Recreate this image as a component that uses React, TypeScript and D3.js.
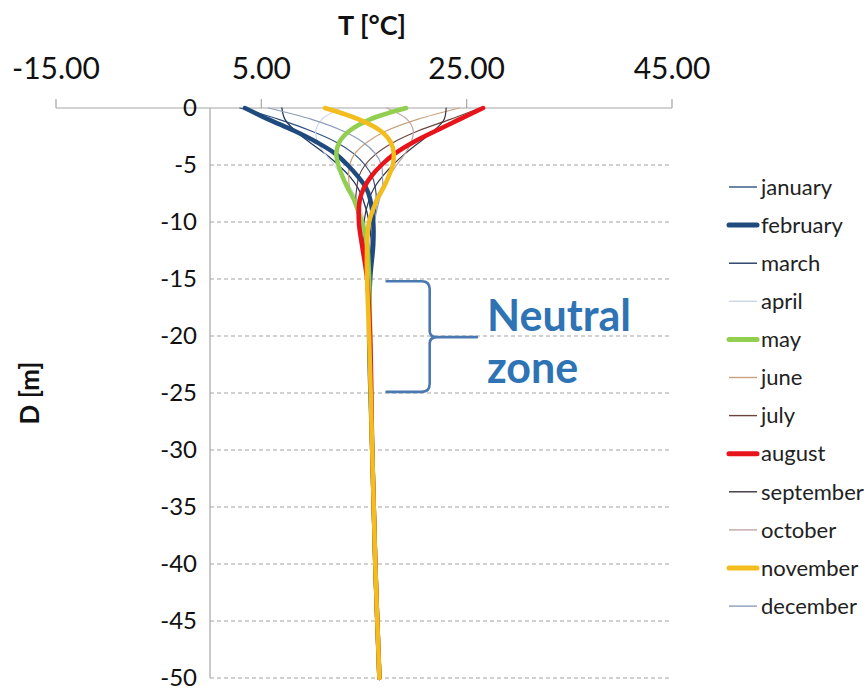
import React from 'react';
import * as d3 from 'd3';

const W = 868;
const H = 688;
const FONT = "Lato, 'Open Sans', 'DejaVu Sans', sans-serif";

// Depth below surface [m]
const DEPTHS = [0, -1, -2, -3, -4, -5, -6, -7, -8, -10, -12, -15, -20, -30, -40, -50];

// Monthly ground temperature profiles [°C], one value per depth
const january = [2.9, 6.7, 9.8, 12.3, 14.0, 15.1, 15.8, 16.1, 16.2, 16.0, 15.7, 15.5, 15.5, 15.8, 16.1, 16.5];
const february = [3.4, 5.7, 8.2, 10.4, 12.2, 13.4, 14.4, 15.2, 15.6, 15.9, 15.9, 15.6, 15.5, 15.8, 16.1, 16.5];
const march = [7.0, 7.3, 8.3, 9.7, 11.2, 12.5, 13.6, 14.4, 14.9, 15.5, 15.7, 15.6, 15.6, 15.8, 16.1, 16.5];
const april = [12.8, 10.9, 10.3, 10.5, 11.2, 12.1, 12.9, 13.7, 14.3, 15.1, 15.5, 15.6, 15.6, 15.8, 16.1, 16.5];
const may = [19.1, 15.6, 13.6, 12.6, 12.3, 12.5, 12.9, 13.4, 14.0, 14.8, 15.3, 15.5, 15.6, 15.8, 16.1, 16.5];
const june = [24.3, 20.2, 17.2, 15.3, 14.1, 13.6, 13.5, 13.6, 13.9, 14.6, 15.1, 15.5, 15.6, 15.8, 16.1, 16.5];
const july = [26.3, 23.4, 20.3, 17.9, 16.2, 15.1, 14.5, 14.3, 14.2, 14.5, 14.9, 15.4, 15.6, 15.8, 16.1, 16.5];
const august = [26.6, 24.3, 22.0, 19.8, 18.0, 16.7, 15.7, 15.0, 14.6, 14.5, 14.8, 15.3, 15.6, 15.8, 16.1, 16.5];
const september = [23.0, 22.8, 21.8, 20.4, 19.0, 17.8, 16.8, 16.0, 15.5, 15.0, 15.0, 15.2, 15.6, 15.8, 16.1, 16.5];
const october = [17.2, 19.2, 19.8, 19.6, 19.0, 18.2, 17.4, 16.7, 16.1, 15.4, 15.2, 15.2, 15.5, 15.8, 16.1, 16.5];
const november = [11.2, 14.5, 16.6, 17.6, 17.9, 17.8, 17.4, 16.9, 16.3, 15.5, 15.3, 15.3, 15.5, 15.8, 16.1, 16.5];
const december = [5.7, 9.9, 12.9, 14.9, 16.1, 16.7, 16.8, 16.8, 16.5, 16.0, 15.6, 15.4, 15.5, 15.8, 16.1, 16.5];

const MONTHS = [
  'january', 'february', 'march', 'april', 'may', 'june',
  'july', 'august', 'september', 'october', 'november', 'december',
];
const SERIES = [
  january, february, march, april, may, june,
  july, august, september, october, november, december,
];
const COLORS = [
  '#2f5180', '#1f4a7d', '#1f3864', '#ccd6e4', '#92cf50', '#c9a27c',
  '#6b4440', '#e8141c', '#3a3440', '#c2a6a6', '#f3bd1e', '#8c9dbb',
];
const WIDTHS = [1.2, 4.5, 1.3, 1.1, 4.5, 1.2, 1.2, 4.5, 1.2, 1.2, 4.5, 1.2];

const T_TICKS = [-15, 5, 25, 45];
const D_TICKS = [0, -5, -10, -15, -20, -25, -30, -35, -40, -45, -50];

export default function App() {
  const x = d3.scaleLinear().domain([-15, 45]).range([56, 672]);
  const y = d3.scaleLinear().domain([0, -50]).range([108, 678]);
  const fmt = (t: number) => d3.format('.2f')(t).replace('\u2212', '-');

  const line = d3
    .line<number>()
    .x((t) => x(t))
    .y((_, i) => y(DEPTHS[i]))
    .curve(d3.curveCatmullRom.alpha(0.5));

  // thin profiles underneath, bold highlighted months on top
  const order = d3.range(SERIES.length).sort(
    (a, b) => (WIDTHS[a] > 3 ? 1 : 0) - (WIDTHS[b] > 3 ? 1 : 0) || a - b,
  );

  // brace marking the neutral zone
  const bx0 = x(17.2);
  const bxc = x(21.4);
  const bxTip = x(26.0);
  const byTop = y(-15.2);
  const byMid = y(-20.1);
  const byBot = y(-24.9);
  const r = 8;
  const brace = [
    `M${bx0},${byTop} L${bxc - r},${byTop} Q${bxc},${byTop} ${bxc},${byTop + r}`,
    `L${bxc},${byMid - 6} Q${bxc},${byMid} ${bxc + r},${byMid} L${bxTip},${byMid}`,
    `M${bxc + r},${byMid} Q${bxc},${byMid} ${bxc},${byMid + 6}`,
    `L${bxc},${byBot - r} Q${bxc},${byBot} ${bxc - r},${byBot} L${bx0},${byBot}`,
  ].join(' ');

  const legendY0 = 187;
  const legendStep = 38.1;

  return (
    <svg
      width={W}
      height={H}
      viewBox={`0 0 ${W} ${H}`}
      style={{ position: 'absolute', left: 0, top: 0, background: '#fff' }}
      fontFamily={FONT}
    >
      {/* horizontal grid */}
      {D_TICKS.filter((d) => d !== 0).map((d) => (
        <line
          key={`g${d}`}
          x1={x(0)}
          x2={x(45)}
          y1={y(d)}
          y2={y(d)}
          stroke="#a3a3a3"
          strokeWidth={1.2}
          strokeDasharray="4,3"
        />
      ))}

      {/* temperature axis on top */}
      <line x1={x(-15)} x2={x(45)} y1={y(0)} y2={y(0)} stroke="#a6a6a6" strokeWidth={1.2} />
      {T_TICKS.map((t) => (
        <g key={`t${t}`}>
          <line x1={x(t)} x2={x(t)} y1={y(0)} y2={y(0) - 9} stroke="#a6a6a6" strokeWidth={1.2} />
          <text x={x(t)} y={79} textAnchor="middle" fontSize={30} fill="#111">
            {fmt(t)}
          </text>
        </g>
      ))}
      <text x={372} y={35} textAnchor="middle" fontSize={27} fontWeight="bold" fill="#111">
        T [°C]
      </text>

      {/* depth axis */}
      <line x1={x(0)} x2={x(0)} y1={y(0)} y2={y(-50)} stroke="#a6a6a6" strokeWidth={1.2} />
      {D_TICKS.map((d) => (
        <text
          key={`d${d}`}
          x={197}
          y={y(d)}
          dy="0.34em"
          textAnchor="end"
          fontSize={24}
          fill="#111"
        >
          {d}
        </text>
      ))}
      <text
        transform={`translate(39,${y(-25)}) rotate(-90)`}
        textAnchor="middle"
        fontSize={26}
        fontWeight="bold"
        fill="#111"
      >
        D [m]
      </text>

      {/* monthly profiles */}
      {order.map((i) => (
        <path
          key={MONTHS[i]}
          d={line(SERIES[i]) || ''}
          fill="none"
          stroke={COLORS[i]}
          strokeWidth={WIDTHS[i]}
          strokeLinecap="round"
          strokeLinejoin="round"
        />
      ))}

      {/* neutral zone annotation */}
      <path d={brace} fill="none" stroke="#4a78b0" strokeWidth={2.6} strokeLinecap="round" />
      <text x={487} y={331} fontSize={43} fontWeight="bold" fill="#2e74b5">
        Neutral
      </text>
      <text x={487} y={383} fontSize={43} fontWeight="bold" fill="#2e74b5">
        zone
      </text>

      {/* legend */}
      {MONTHS.map((m, i) => {
        const ly = legendY0 + i * legendStep;
        return (
          <g key={`l${m}`}>
            <line
              x1={729}
              x2={757}
              y1={ly}
              y2={ly}
              stroke={COLORS[i]}
              strokeWidth={WIDTHS[i] > 3 ? 5 : 1.4}
              strokeLinecap={WIDTHS[i] > 3 ? 'round' : 'butt'}
            />
            <text x={761} y={ly} dy="0.35em" fontSize={22} fill="#222">
              {m}
            </text>
          </g>
        );
      })}
    </svg>
  );
}
